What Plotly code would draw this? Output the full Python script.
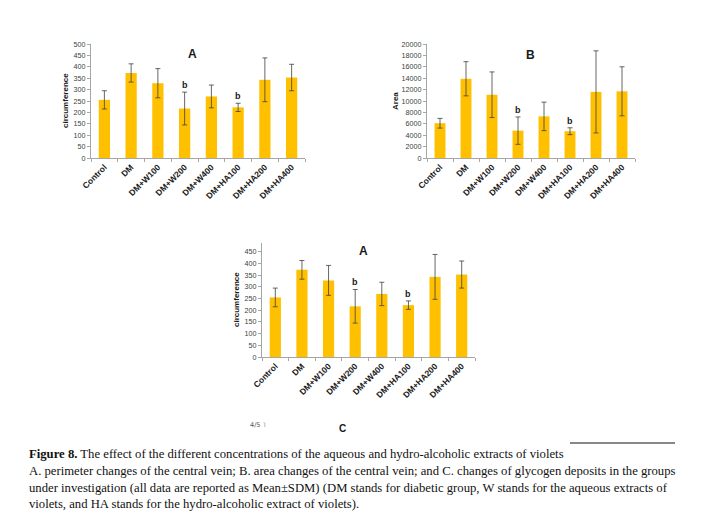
import plotly.graph_objects as go

categories = ["Control", "DM", "DM+W100", "DM+W200", "DM+W400", "DM+HA100", "DM+HA200", "DM+HA400"]
circ_mean = [255, 373, 328, 217, 270, 222, 343, 353]
circ_err = [40, 40, 64, 72, 50, 18, 96, 58]
area_mean = [6100, 13900, 11100, 4800, 7300, 4700, 11600, 11700]
area_err = [850, 3000, 4000, 2400, 2500, 600, 7200, 4300]
sig_labels = ["", "", "", "b", "", "b", "", ""]

W, H = 710, 516
OFF = 8  # page body margin of the html page
BAR = "#FFC000"
ERR = "#404040"
FONT = "Liberation Sans"

def px(x):
    return (x - OFF) / W

def py(y):
    return 1 - (y - OFF) / H

panels = [
    dict(x="x", y="y", mean=circ_mean, err=circ_err, xd=[px(91), px(305)], yd=[py(158), py(44)],
         rng=[0, 500], dtick=50, title="circumference", label="A", lx=px(192), ly=py(54), ytx=px(65)),
    dict(x="x2", y="y2", mean=area_mean, err=area_err, xd=[px(427), px(635)], yd=[py(158), py(44)],
         rng=[0, 20000], dtick=2000, title="Area", label="B", lx=px(530), ly=py(55), ytx=px(395)),
    dict(x="x3", y="y3", mean=circ_mean, err=circ_err, xd=[px(262), px(475)], yd=[py(357), py(243)],
         rng=[0, 488], dtick=50, title="circumference", label="A", lx=px(363), ly=py(251), ytx=px(237)),
]

fig = go.Figure()
annotations = []
layout = {}
for i, p in enumerate(panels):
    sfx = "" if i == 0 else str(i + 1)
    fig.add_trace(go.Bar(
        x=categories, y=p["mean"], xaxis=p["x"], yaxis=p["y"],
        marker=dict(color=BAR, line=dict(width=0)), width=0.42,
        error_y=dict(type="data", array=p["err"], visible=True, color=ERR, thickness=0.8, width=2.5),
        showlegend=False,
    ))
    layout["xaxis" + sfx] = dict(
        domain=p["xd"], anchor=p["y"], range=[-0.5, 7.5], showline=True, linecolor="#a6a6a6", linewidth=1,
        ticks="outside", tickson="boundaries", ticklen=3, tickcolor="#a6a6a6", tickangle=-45,
        tickfont=dict(family=FONT, size=8.5, color="#1a1a1a", weight="bold"), showgrid=False,
        automargin=False, fixedrange=True,
    )
    layout["yaxis" + sfx] = dict(
        domain=p["yd"], anchor=p["x"], range=p["rng"], dtick=p["dtick"], tick0=0, tickformat="d",
        showline=True, linecolor="#a6a6a6", linewidth=1, ticks="outside", ticklen=3, tickcolor="#a6a6a6",
        tickfont=dict(family=FONT, size=7.2, color="#404040"), showgrid=False, zeroline=False,
        automargin=False, fixedrange=True,
    )
    annotations.append(dict(x=p["ytx"], y=(p["yd"][0] + p["yd"][1]) / 2, xref="paper", yref="paper",
                            xanchor="center", yanchor="middle",
                            text="<b>" + p["title"] + "</b>", textangle=-90, showarrow=False,
                            font=dict(family=FONT, size=8, color="#1a1a1a")))
    annotations.append(dict(x=p["lx"], y=p["ly"], xref="paper", yref="paper", text="<b>" + p["label"] + "</b>",
                            xanchor="center", yanchor="middle",
                            showarrow=False, font=dict(family=FONT, size=12, color="#1a1a1a")))
    for c, m, e, s in zip(categories, p["mean"], p["err"], sig_labels):
        if s:
            annotations.append(dict(x=c, y=m + e, xref=p["x"], yref=p["y"], text="<b>" + s + "</b>",
                                    showarrow=False, xanchor="center", yanchor="bottom", yshift=0,
                                    font=dict(family=FONT, size=9, color="#1a1a1a")))

# page fragments below the third chart
annotations.append(dict(x=px(258), y=py(425), xref="paper", yref="paper", text="4/5 ˥", showarrow=False,
                        xanchor="center", yanchor="middle",
                        font=dict(family="DejaVu Sans", size=6.5, color="#555555")))
annotations.append(dict(x=px(342), y=py(428), xref="paper", yref="paper", text="<b>C</b>", showarrow=False,
                        xanchor="center", yanchor="middle",
                        font=dict(family=FONT, size=10, color="#1a1a1a")))

caption = [
    ("<b>Figure 8.</b> The effect of the different concentrations of the aqueous and hydro-alcoholic extracts of violets", 454),
    ("A. perimeter changes of the central vein; B. area changes of the central vein; and C. changes of glycogen deposits in the groups", 471),
    ("under investigation (all data are reported as Mean±SDM) (DM stands for diabetic group, W stands for the aqueous extracts of", 488),
    ("violets, and HA stands for the hydro-alcoholic extract of violets).", 504),
]
for txt, yy in caption:
    annotations.append(dict(x=px(27), y=py(yy), xref="paper", yref="paper", text=txt, showarrow=False,
                            xanchor="left", yanchor="middle", align="left",
                            font=dict(family="Liberation Serif", size=12.7, color="#111111")))

fig.update_layout(
    width=W, height=H, margin=dict(l=0, r=0, t=0, b=0, autoexpand=False), paper_bgcolor="white",
    plot_bgcolor="white", annotations=annotations, bargap=0.5,
    shapes=[dict(type="line", xref="paper", yref="paper", x0=px(570), x1=px(675), y0=py(443), y1=py(443),
                 line=dict(color="#111111", width=1))],
    **layout,
)
fig.write_html("out.html")
